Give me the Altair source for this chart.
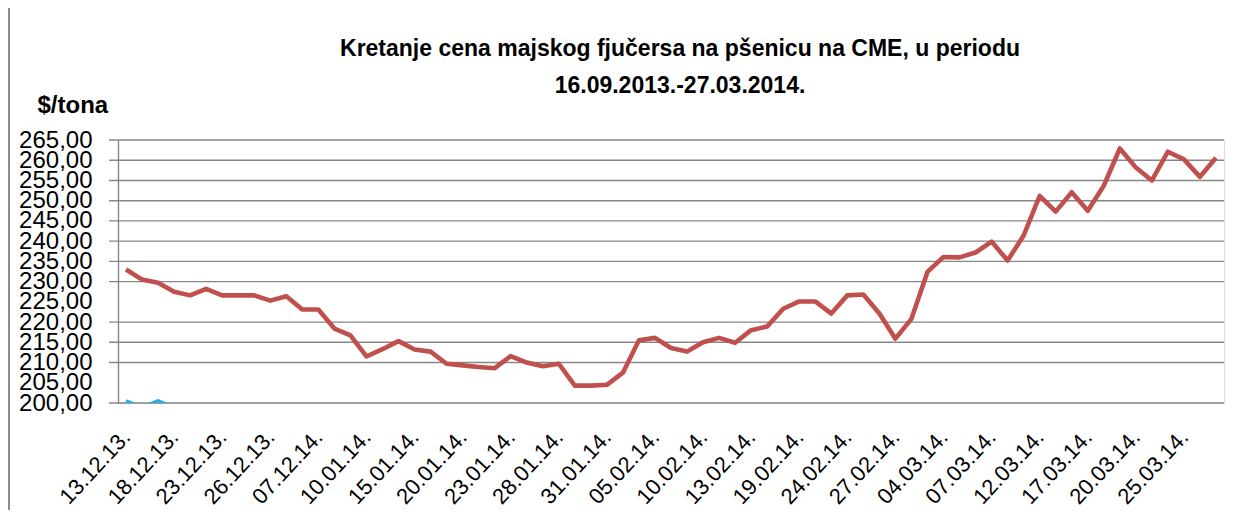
import altair as alt
import pandas as pd

# ---- data ----
prices = [233.0, 230.5, 229.7, 227.5, 226.6, 228.2, 226.6, 226.6, 226.6, 225.3,
          226.4, 223.1, 223.1, 218.4, 216.7, 211.5, 213.3, 215.3, 213.2, 212.7,
          209.7, 209.3, 208.9, 208.6, 211.6, 210.0, 209.1, 209.7, 204.3, 204.3,
          204.5, 207.5, 215.5, 216.1, 213.6, 212.7, 215.0, 216.1, 214.9, 218.0,
          218.9, 223.3, 225.1, 225.1, 222.1, 226.6, 226.8, 222.1, 215.9, 220.8,
          232.4, 236.1, 236.0, 237.2, 239.9, 235.2, 241.4, 251.2, 247.3, 252.1,
          247.5, 253.7, 262.9, 258.2, 255.0, 262.1, 260.2, 255.9, 260.6]

x_labels = ["13.12.13.", "18.12.13.", "23.12.13.", "26.12.13.", "07.12.14.",
            "10.01.14.", "15.01.14.", "20.01.14.", "23.01.14.", "28.01.14.",
            "31.01.14.", "05.02.14.", "10.02.14.", "13.02.14.", "19.02.14.",
            "24.02.14.", "27.02.14.", "04.03.14.", "07.03.14.", "12.03.14.",
            "17.03.14.", "20.03.14.", "25.03.14."]

second_series = [200.6, 199.0, 200.6, 199.0]

y_ticks = [200, 205, 210, 215, 220, 225, 230, 235, 240, 245, 250, 255, 260, 265]
grid_values = [200, 210, 215, 220, 230, 235, 240, 245, 250, 255, 260, 265]

title_line1 = "Kretanje cena majskog fjučersa na  pšenicu na CME, u periodu"
title_line2 = "16.09.2013.-27.03.2014."
y_title = "$/tona"

W, H = 1106, 263
PAD_L, PAD_T, PAD_R, PAD_B = 110, 132, 16, 107

FONT = "'Liberation Sans', Arial, sans-serif"

main = pd.DataFrame({"i": list(range(len(prices))), "v": prices})
cyan = pd.DataFrame({"i": list(range(len(second_series))), "v": second_series})
grid = pd.DataFrame({"g": grid_values})

label_arr = "[" + ",".join("'" + s + "'" for s in x_labels) + "]"
x_label_expr = f"datum.value % 3 == 0 ? {label_arr}[datum.value / 3] : ''"

yscale = alt.Scale(domain=[200, 265], nice=False, zero=False)
xscale = alt.Scale(type="point", padding=0.5, domain=list(range(len(prices))))

x_axis = alt.Axis(title=None, labelExpr=x_label_expr, labelAngle=-47,
                  labelAlign="right", labelBaseline="middle",
                  labelPadding=30, labelFontSize=22, labelFont=FONT,
                  labelColor="black", labelOverlap=False, ticks=False,
                  domain=False, grid=False, labelBound=False)
y_axis = alt.Axis(values=y_ticks, grid=False, ticks=False,
                  domain=True, domainColor="#878787", domainWidth=1.4,
                  labelExpr="replace(format(datum.value, '.2f'), '.', ',')",
                  labelFontSize=24, labelFont=FONT, labelColor="black",
                  labelPadding=26, labelOverlap=False,
                  title=y_title, titleAngle=0, titleAlign="left",
                  titleBaseline="middle", titleX=-81, titleY=-35,
                  titleFontSize=24, titleFont=FONT, titleFontWeight="bold",
                  titleColor="black")

grid_layer = alt.Chart(grid).mark_rule(color="#878787", strokeWidth=1.4).encode(
    y=alt.Y("g:Q", scale=yscale, axis=y_axis),
    x=alt.value(-9),
    x2=alt.value(W),
)

line = alt.Chart(main).mark_line(color="#C0504D", strokeWidth=4.6, strokeJoin="round").encode(
    x=alt.X("i:O", scale=xscale, axis=x_axis),
    y=alt.Y("v:Q", scale=yscale, axis=y_axis),
)

cyan_line = alt.Chart(cyan).mark_line(color="#1FB0EC", strokeWidth=3, clip=True).encode(
    x=alt.X("i:O", scale=xscale, axis=x_axis),
    y=alt.Y("v:Q", scale=yscale, axis=y_axis),
)

border = alt.Chart(grid).mark_rule(color="#8C8C8C", strokeWidth=2).encode(
    x=alt.value(-109), y=alt.value(-PAD_T), y2=alt.value(H + PAD_B)
)

def title_text(txt, ypix):
    return alt.Chart(pd.DataFrame({"t": [txt]})).mark_text(
        font=FONT, fontSize=23, fontWeight="bold", color="black",
        align="center", baseline="middle"
    ).encode(text="t:N", x=alt.value(562), y=alt.value(ypix))

chart = alt.layer(grid_layer, border, line, cyan_line,
                  title_text(title_line1, -91), title_text(title_line2, -54)).properties(
    width=W, height=H,
    autosize=alt.AutoSizeParams(type="none"),
    padding={"left": PAD_L, "top": PAD_T, "right": PAD_R, "bottom": PAD_B},
).configure_view(stroke=None).configure(background="white")

chart.save("out.html", embed_options={"renderer": "svg", "actions": False})
